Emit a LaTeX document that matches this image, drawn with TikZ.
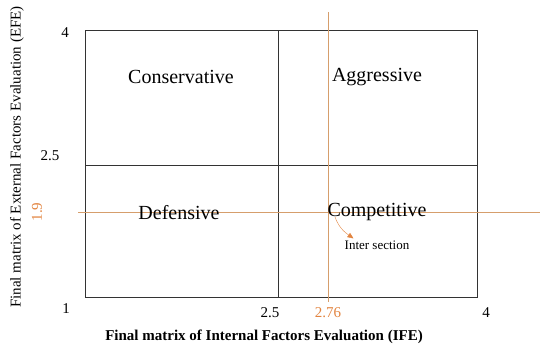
\documentclass[tikz,border=0pt]{standalone}
\usepackage{fontspec}
\setmainfont{Liberation Serif}
\usetikzlibrary{arrows.meta, positioning}
\definecolor{ifeorange}{RGB}{226,132,64}
\definecolor{linetan}{RGB}{214,158,108}

\begin{document}
\begin{tikzpicture}[x=1pt, y=-1pt,
  quad/.style={font=\fontsize{20}{22}\selectfont},
  tick/.style={font=\fontsize{15}{17}\selectfont},
  every node/.style={inner sep=0pt}
]
  \useasboundingbox (0,0) rectangle (550,351);
  % matrix frame
  \draw[thick, black!80] (85,30) rectangle (477,297);
  \draw[thick, black!80] (278,30) -- (278,297);
  \draw[thick, black!80] (85,165) -- (477,165);
  % IFE and EFE scores
  \draw[linetan, thick] (328,12) -- (328,302);
  \draw[linetan, thick] (78,212) -- (540,212);
  % quadrants
  \node[quad] (conservative) at (181,77)  {Conservative};
  \node[quad] (aggressive)   at (377,77)  {Aggressive};
  \node[quad] (defensive)    at (179,213) {Defensive};
  \node[quad] (competitive)  at (377,212) {Competitive};
  \node[font=\fontsize{13}{15}\selectfont] (inter) at (377,245) {Inter section};
  \coordinate (hit) at (335,217);
  \draw[-{Triangle[length=6pt, width=5pt]}, ifeorange] (hit)
    to[out=-70, in=145] ([xshift=9pt, yshift=2pt]inter.north west);
  % ticks
  \node[tick] (ytop) at (65,33)  {4};
  \node[tick] (ymid) at (50,156) {2.5};
  \node[tick, text=ifeorange, rotate=90] (yefe) at (37,212) {1.9};
  \node[tick] (ybot) at (66,309) {1};
  \node[tick] (xmid) at (270,313) {2.5};
  \node[tick, text=ifeorange] (xife) at (328,313) {2.76};
  \node[tick] (xtop) at (486,313) {4};
  % axis titles
  \node[font=\fontsize{15}{17}\selectfont\bfseries] (xtitle) at (264,337)
    {Final matrix of Internal Factors Evaluation (IFE)};
  \node[font=\fontsize{15}{17}\selectfont, rotate=90] (ytitle) at (17,157)
    {Final matrix of External Factors Evaluation (EFE)};
\end{tikzpicture}
\end{document}
